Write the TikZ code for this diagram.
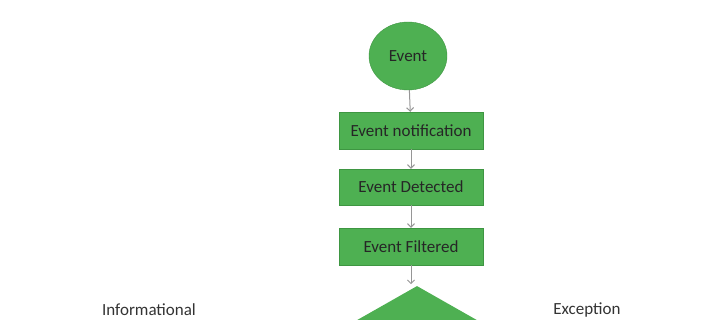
\documentclass[tikz,border=0pt]{standalone}
\usepackage{fontspec}
\setmainfont{Carlito}
\usetikzlibrary{shapes.geometric,arrows.meta}
\definecolor{stepgreen}{RGB}{78,176,82}
\definecolor{stepedge}{RGB}{62,150,66}
\definecolor{flowgray}{RGB}{150,150,150}
\begin{document}
\begin{tikzpicture}[x=1pt,y=-1pt, every node/.style={font=\fontsize{17}{19}\selectfont},
  stepbox/.style={draw=stepedge, fill=stepgreen, minimum width=144pt, minimum height=37pt, inner sep=0pt, text=black!85},
  flow/.style={draw=flowgray, line width=1pt, -{Straight Barb[length=3.5pt,width=7pt]}}]
\useasboundingbox (0,0) rectangle (718,320);
\clip (0,0) rectangle (718,320);
\node[ellipse, draw=stepedge, fill=stepgreen, minimum width=78pt, minimum height=68pt, inner sep=0pt, text=black!85] (event) at (408,56) {Event};
\node[stepbox] (notify) at (411,130.5) {Event notification};
\node[stepbox, minimum height=36pt] (detect) at (411,187) {Event Detected};
\node[stepbox] (filter) at (411,246.5) {Event Filtered};
\node[diamond, fill=stepgreen, minimum width=176pt, minimum height=100pt, inner sep=0pt] (decide) at (417,336) {};
\node[text=black!80] (info) at (149,310) {Informational};
\node[text=black!80] (except) at (587,310) {Exception};
\draw[flow] (event) -- (notify);
\draw[flow] (notify) -- (detect);
\draw[flow] (detect) -- (filter);
\draw[flow] (filter.south) -- ++(0,19);
\end{tikzpicture}
\end{document}
